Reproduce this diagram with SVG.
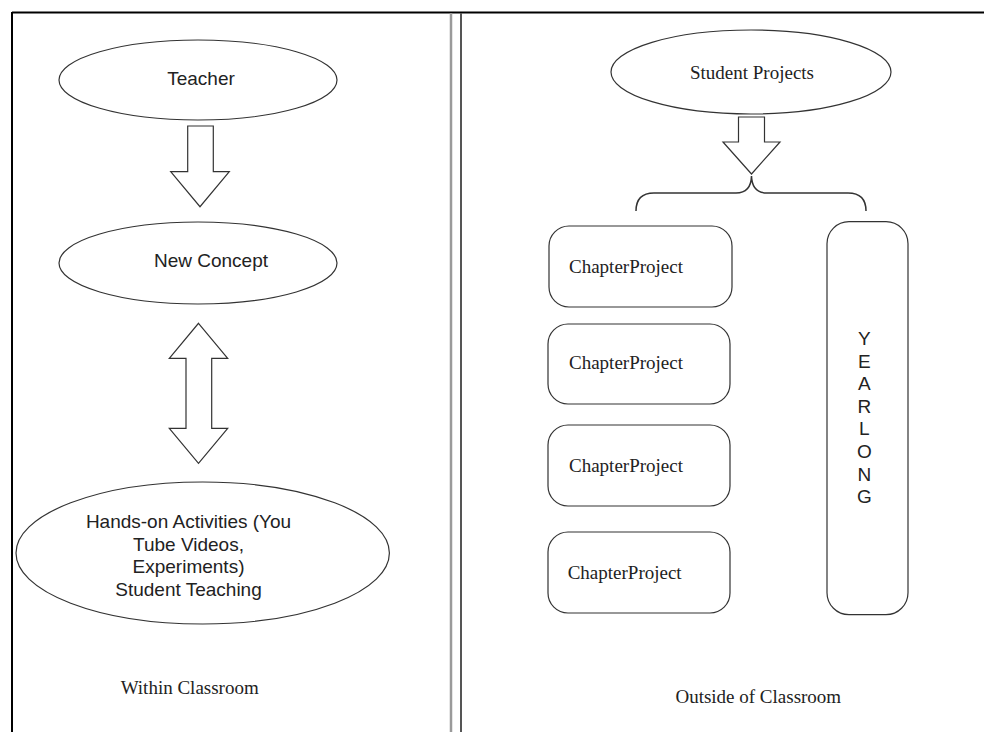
<svg xmlns="http://www.w3.org/2000/svg" width="984" height="732" viewBox="0 0 984 732">
<style>
.shape{fill:#fff;stroke:#333;stroke-width:1.2}
.sans{font-family:"Liberation Sans",Arial,Helvetica,sans-serif;font-size:19px;fill:#222}
.serif{font-family:"Liberation Serif","Times New Roman",serif;font-size:19px;fill:#222}
.mid{text-anchor:middle}
</style>
<rect x="0" y="0" width="984" height="732" fill="#fff"/>
<g id="frame">
<line x1="12" y1="12.5" x2="984" y2="12.5" stroke="#000" stroke-width="2"/>
<line x1="12" y1="12" x2="12" y2="732" stroke="#000" stroke-width="2"/>
<line x1="451" y1="13" x2="451" y2="732" stroke="#9a9a9a" stroke-width="2.5"/>
<line x1="461" y1="13" x2="461" y2="732" stroke="#555" stroke-width="2"/>
</g>
<g id="teacher">
<ellipse class="shape" cx="198" cy="80" rx="139" ry="40"/>
<text class="sans mid" x="201" y="85">Teacher</text>
</g>
<g id="new-concept">
<ellipse class="shape" cx="198" cy="263" rx="139" ry="41"/>
<text class="sans mid" x="211" y="267">New Concept</text>
</g>
<g id="hands-on">
<ellipse class="shape" cx="202.7" cy="553" rx="186.7" ry="71"/>
<text class="sans mid" x="188.5" y="528">Hands-on Activities (You</text>
<text class="sans mid" x="188.5" y="550.5">Tube Videos,</text>
<text class="sans mid" x="188.5" y="573">Experiments)</text>
<text class="sans mid" x="188.5" y="595.5">Student Teaching</text>
</g>
<g id="within-label">
<text class="serif mid" x="189.7" y="694">Within Classroom</text>
</g>
<g id="student-projects">
<ellipse class="shape" cx="751" cy="72" rx="140" ry="42"/>
<text class="serif mid" x="752" y="79">Student Projects</text>
</g>
<g id="chapter1">
<rect class="shape" x="549" y="226" width="183" height="81" rx="20"/>
<text class="serif" x="569" y="273">ChapterProject</text>
</g>
<g id="chapter2">
<rect class="shape" x="548" y="324" width="182" height="80" rx="20"/>
<text class="serif" x="569" y="369">ChapterProject</text>
</g>
<g id="chapter3">
<rect class="shape" x="548" y="425" width="182" height="81" rx="20"/>
<text class="serif" x="569" y="472">ChapterProject</text>
</g>
<g id="chapter4">
<rect class="shape" x="548" y="532" width="182" height="81" rx="20"/>
<text class="serif" x="567.7" y="579">ChapterProject</text>
</g>
<g id="yearlong">
<rect class="shape" x="827" y="221.7" width="81" height="393" rx="22"/>
<text class="sans mid" x="864.3" y="345">Y</text>
<text class="sans mid" x="864.3" y="367.6">E</text>
<text class="sans mid" x="864.3" y="390.2">A</text>
<text class="sans mid" x="864.3" y="412.8">R</text>
<text class="sans mid" x="864.3" y="435.4">L</text>
<text class="sans mid" x="864.3" y="458">O</text>
<text class="sans mid" x="864.3" y="480.6">N</text>
<text class="sans mid" x="864.3" y="503.2">G</text>
</g>
<g id="outside-label">
<text class="serif mid" x="758.3" y="702.5">Outside of Classroom</text>
</g>
<g id="connectors">
<polygon class="shape" points="187.7,126 213.3,126 213.3,171.7 229.3,171.7 200,206.7 170.7,171.7 187.7,171.7"/>
<polygon class="shape" points="198.5,323.3 227.7,358.3 211.7,358.3 211.7,428.3 227.7,428.3 198.5,463.3 169.3,428.3 186,428.3 186,358.3 169.3,358.3"/>
<polygon class="shape" points="738.5,117 764.5,117 764.5,142 780,142 751.5,174 723,142 738.5,142"/>
<path d="M636 211 Q636 193 654 193 L736 193 Q751 193 751.5 176 Q752 193 767 193 L848 193 Q866 193 866 211" fill="none" stroke="#333" stroke-width="1.5"/>
</g>
</svg>
